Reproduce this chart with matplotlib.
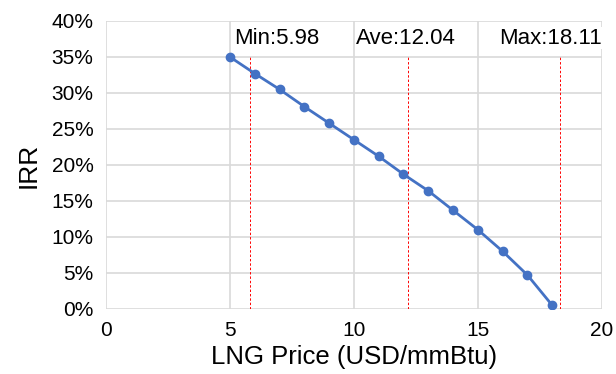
import matplotlib
matplotlib.use('Agg')
import matplotlib.pyplot as plt
from matplotlib.ticker import PercentFormatter

plt.rcParams['font.family'] = ['Liberation Sans', 'DejaVu Sans']

# data
lng_price = [5, 6, 7, 8, 9, 10, 11, 12, 13, 14, 15, 16, 17, 18]
irr = [0.350, 0.327, 0.305, 0.281, 0.258, 0.235, 0.212, 0.187, 0.164, 0.137, 0.110, 0.080, 0.047, 0.005]

marker_x = [5.81, 12.18, 18.31]
marker_labels = ["Min:5.98", "Ave:12.04", "Max:18.11"]
label_x = [5.15, 10.1, 15.85]

fig = plt.figure(figsize=(6.16, 3.74), dpi=100)
ax = fig.add_axes([0.172, 0.174, 0.805, 0.77])

ax.plot(lng_price, irr, color="#4472C4", linewidth=2, marker="o", markersize=6, zorder=3)

for x in marker_x:
    ax.plot([x, x], [0, 0.35], color="red", linestyle=(0, (2.5, 2)), linewidth=0.7, zorder=2)

for x, t in zip(label_x, marker_labels):
    ax.text(x, 0.376, t, fontsize=16, ha="left", va="center", color="black", zorder=4,
            bbox=dict(facecolor="white", edgecolor="none", pad=0.5))

ax.set_xlim(0, 20)
ax.set_ylim(0, 0.40)
ax.set_xticks([0, 5, 10, 15, 20])
ax.set_yticks([i * 0.05 for i in range(9)])
ax.yaxis.set_major_formatter(PercentFormatter(1.0, decimals=0))
ax.grid(True, color="#D9D9D9", linewidth=1.2)
ax.set_axisbelow(True)
for s in ax.spines.values():
    s.set_visible(False)
ax.tick_params(length=0, labelsize=15, pad=9)

ax.set_xlabel("LNG Price (USD/mmBtu)", fontsize=18.5, labelpad=3)
ax.set_ylabel("IRR", fontsize=19, labelpad=8)

fig.savefig("out.png", dpi=100)
plt.close(fig)
